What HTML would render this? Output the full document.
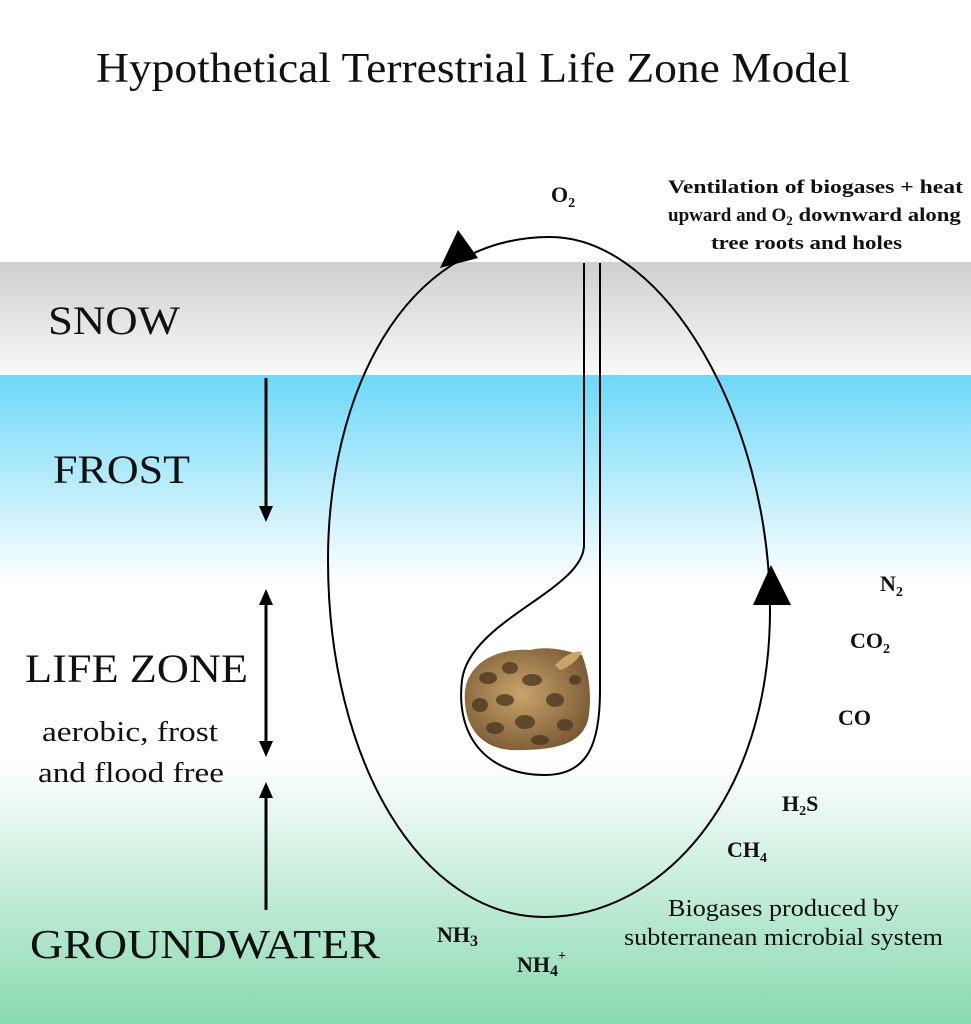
<!DOCTYPE html>
<html><head><meta charset="utf-8"><style>
html,body{margin:0;padding:0;background:#fff;}
svg{display:block;}
text{font-family:"Liberation Serif",serif;fill:#111;}
.b{font-weight:bold;font-size:22px;}
.v{font-weight:bold;font-size:19px;}
</style></head><body>
<svg width="971" height="1024" viewBox="0 0 971 1024" xmlns="http://www.w3.org/2000/svg">
<defs>
<linearGradient id="snow" x1="0" y1="0" x2="0" y2="1"><stop offset="0" stop-color="#cfcfcf"/><stop offset="1" stop-color="#f8f8f8"/></linearGradient>
<linearGradient id="blue" x1="0" y1="0" x2="0" y2="1"><stop offset="0" stop-color="#6dd8f8"/><stop offset="1" stop-color="#ffffff"/></linearGradient>
<linearGradient id="green" x1="0" y1="0" x2="0" y2="1"><stop offset="0" stop-color="#ffffff"/><stop offset="1" stop-color="#88d9b0"/></linearGradient>
<radialGradient id="snk" cx="0.45" cy="0.45" r="0.6"><stop offset="0" stop-color="#c9a56a"/><stop offset="1" stop-color="#7a5a35"/></radialGradient>
</defs>
<rect x="0" y="262" width="971" height="113" fill="url(#snow)"/>
<rect x="0" y="375" width="971" height="210" fill="url(#blue)"/>
<rect x="0" y="760" width="971" height="264" fill="url(#green)"/>

<text x="96" y="82" font-size="42" textLength="754" lengthAdjust="spacingAndGlyphs">Hypothetical Terrestrial Life  Zone Model</text>
<text x="48" y="334" font-size="40" textLength="132" lengthAdjust="spacingAndGlyphs">SNOW</text>
<text x="53" y="483" font-size="40" textLength="137" lengthAdjust="spacingAndGlyphs">FROST</text>
<text x="25" y="682" font-size="40" textLength="223" lengthAdjust="spacingAndGlyphs">LIFE ZONE</text>
<text x="42" y="741" font-size="29" textLength="176" lengthAdjust="spacingAndGlyphs">aerobic, frost</text>
<text x="38" y="782" font-size="29" textLength="186" lengthAdjust="spacingAndGlyphs">and flood free</text>
<text x="30" y="958" font-size="41" textLength="350" lengthAdjust="spacingAndGlyphs">GROUNDWATER</text>

<g stroke="#000" stroke-width="3" fill="#000">
<line x1="266" y1="378" x2="266" y2="508"/>
<polygon points="259,506 273,506 266,522" stroke="none"/>
<line x1="266" y1="604" x2="266" y2="742"/>
<polygon points="259,605 273,605 266,589" stroke="none"/>
<polygon points="259,741 273,741 266,757" stroke="none"/>
<line x1="266" y1="797" x2="266" y2="910"/>
<polygon points="259,798 273,798 266,782" stroke="none"/>
</g>

<path d="M550,237 C665,237 770,420 770,610 C770,800 660,917 545,917 C420,917 328,760 328,560 C328,400 400,237 550,237 Z" fill="none" stroke="#000" stroke-width="2"/>
<polygon points="440,268 458,230 478,258" fill="#000"/>
<polygon points="771,565 753,605 791,605" fill="#000"/>

<g fill="none" stroke="#000" stroke-width="2">
<path d="M584,263 L584,545 C584,590 470,620 462,680 C455,740 490,775 545,775 C590,775 600,740 600,690 L600,263"/>
</g>

<g>
<path d="M465,690 C470,660 500,648 530,650 C550,645 570,652 582,655 C590,675 592,700 588,720 C582,742 560,750 520,750 C485,752 462,730 465,690 Z" fill="url(#snk)"/>
<g fill="#4a3520" opacity="0.75">
<ellipse cx="488" cy="678" rx="9" ry="6"/><ellipse cx="510" cy="668" rx="8" ry="6"/><ellipse cx="532" cy="680" rx="10" ry="6"/>
<ellipse cx="480" cy="705" rx="8" ry="7"/><ellipse cx="505" cy="700" rx="9" ry="6"/><ellipse cx="555" cy="700" rx="9" ry="7"/>
<ellipse cx="495" cy="728" rx="9" ry="6"/><ellipse cx="525" cy="722" rx="10" ry="7"/><ellipse cx="565" cy="725" rx="8" ry="6"/>
<ellipse cx="540" cy="740" rx="9" ry="5"/><ellipse cx="575" cy="680" rx="6" ry="5"/>
</g>
<path d="M555,665 C565,655 575,650 582,652 C578,660 568,668 560,670 Z" fill="#c9a56a"/>
</g>

<text x="551" y="202" class="b">O<tspan font-size="14" dy="5">2</tspan></text>
<text x="668" y="193" class="v" textLength="295" lengthAdjust="spacingAndGlyphs">Ventilation of biogases + heat</text>
<text x="668" y="221" class="v">upward and O<tspan font-size="13" dy="4">2</tspan><tspan dy="-4" textLength="168" lengthAdjust="spacingAndGlyphs"> downward along</tspan></text>
<text x="711" y="249" class="v" textLength="191" lengthAdjust="spacingAndGlyphs">tree roots and holes</text>

<text x="880" y="591" class="b">N<tspan font-size="14" dy="5">2</tspan></text>
<text x="850" y="648" class="b">CO<tspan font-size="14" dy="5">2</tspan></text>
<text x="838" y="725" class="b">CO</text>
<text x="782" y="811" class="b">H<tspan font-size="14" dy="4">2</tspan><tspan dy="-4">S</tspan></text>
<text x="727" y="857" class="b">CH<tspan font-size="14" dy="5">4</tspan></text>
<text x="437" y="942" class="b">NH<tspan font-size="16" dy="4">3</tspan></text>
<text x="517" y="972" class="b">NH<tspan font-size="16" dy="4">4</tspan><tspan font-size="14" dy="-16">+</tspan></text>
<text x="668" y="916" font-size="24" textLength="231" lengthAdjust="spacingAndGlyphs">Biogases produced by</text>
<text x="624" y="945" font-size="24" textLength="319" lengthAdjust="spacingAndGlyphs">subterranean microbial system</text>
</svg>
</body></html>
